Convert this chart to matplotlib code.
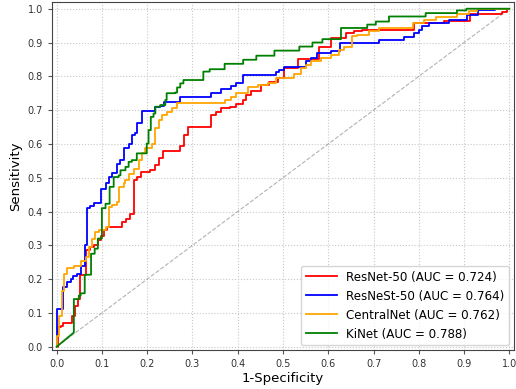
import numpy as np
import matplotlib
matplotlib.use("Agg")
import matplotlib.pyplot as plt

# ROC step points: (fpr where the curve jumps, tpr after the jump)
resnet_fpr = [0, 0.003, 0.009, 0.015, 0.034, 0.040, 0.047, 0.051, 0.064, 0.073, 0.082, 0.091,
              0.097, 0.104, 0.111, 0.144, 0.154, 0.163, 0.170, 0.177, 0.186, 0.207, 0.218,
              0.227, 0.234, 0.273, 0.281, 0.291, 0.340, 0.353, 0.364, 0.382, 0.397, 0.412,
              0.419, 0.430, 0.452, 0.470, 0.489, 0.503, 0.533, 0.580, 0.606, 0.639, 0.657,
              0.675, 0.789, 0.855, 0.912, 0.983, 0.994, 1.0]
resnet_tpr = [0, 0.057, 0.060, 0.069, 0.092, 0.119, 0.141, 0.213, 0.285, 0.295, 0.302, 0.315,
              0.329, 0.344, 0.354, 0.369, 0.379, 0.394, 0.493, 0.502, 0.517, 0.524, 0.537,
              0.557, 0.579, 0.594, 0.626, 0.651, 0.685, 0.695, 0.705, 0.710, 0.718, 0.730,
              0.745, 0.758, 0.774, 0.784, 0.794, 0.824, 0.851, 0.888, 0.913, 0.928, 0.933,
              0.936, 0.957, 0.965, 0.985, 0.990, 1.0, 1.0]

resnest_fpr = [0, 0, 0.015, 0.022, 0.031, 0.037, 0.044, 0.054, 0.062, 0.067, 0.073, 0.083,
               0.097, 0.108, 0.115, 0.122, 0.133, 0.141, 0.148, 0.159, 0.166, 0.174, 0.177,
               0.188, 0.218, 0.229, 0.237, 0.273, 0.340, 0.364, 0.386, 0.397, 0.412, 0.485,
               0.492, 0.503, 0.551, 0.562, 0.576, 0.606, 0.626, 0.712, 0.767, 0.789, 0.800,
               0.807, 0.822, 0.866, 0.906, 0.930, 0.969, 1.0]
resnest_tpr = [0, 0.113, 0.176, 0.190, 0.200, 0.210, 0.215, 0.240, 0.300, 0.410, 0.415, 0.425,
               0.468, 0.483, 0.502, 0.513, 0.542, 0.552, 0.587, 0.601, 0.626, 0.631, 0.661,
               0.697, 0.708, 0.712, 0.725, 0.738, 0.750, 0.762, 0.770, 0.781, 0.804, 0.814,
               0.819, 0.829, 0.844, 0.854, 0.869, 0.874, 0.898, 0.908, 0.916, 0.928, 0.938,
               0.948, 0.957, 0.967, 0.982, 0.996, 1.0, 1.0]

central_fpr = [0, 0, 0.005, 0.012, 0.016, 0.022, 0.038, 0.053, 0.064, 0.071, 0.078, 0.084,
               0.093, 0.108, 0.115, 0.122, 0.133, 0.138, 0.148, 0.152, 0.159, 0.170, 0.181,
               0.188, 0.196, 0.210, 0.218, 0.225, 0.232, 0.243, 0.254, 0.265, 0.371, 0.386,
               0.397, 0.423, 0.445, 0.467, 0.485, 0.525, 0.540, 0.551, 0.562, 0.584, 0.606,
               0.624, 0.635, 0.653, 0.664, 0.690, 0.712, 0.786, 0.811, 0.837, 0.884, 0.910,
               0.928, 1.0]
central_tpr = [0, 0.033, 0.092, 0.166, 0.216, 0.234, 0.240, 0.255, 0.265, 0.295, 0.320, 0.339,
               0.344, 0.354, 0.413, 0.418, 0.428, 0.473, 0.483, 0.493, 0.512, 0.527, 0.552,
               0.572, 0.587, 0.601, 0.646, 0.671, 0.685, 0.695, 0.705, 0.720, 0.730, 0.740,
               0.752, 0.767, 0.774, 0.781, 0.794, 0.807, 0.824, 0.834, 0.844, 0.854, 0.864,
               0.878, 0.888, 0.918, 0.923, 0.933, 0.943, 0.957, 0.967, 0.975, 0.984, 0.992,
               1.0, 1.0]

# KiNet starts with a straight (tied) segment from the origin
kinet_fpr = [0, 0.038, 0.038, 0.049, 0.053, 0.062, 0.076, 0.084, 0.091, 0.100, 0.108, 0.117,
             0.126, 0.137, 0.141, 0.152, 0.159, 0.166, 0.177, 0.199, 0.203, 0.208, 0.214,
             0.218, 0.229, 0.240, 0.243, 0.262, 0.266, 0.273, 0.280, 0.324, 0.338, 0.371,
             0.412, 0.441, 0.481, 0.536, 0.565, 0.587, 0.628, 0.686, 0.705, 0.734, 0.815,
             0.884, 0.905, 1.0]
kinet_tpr = [0, 0.042, 0.141, 0.151, 0.158, 0.213, 0.275, 0.290, 0.320, 0.410, 0.423, 0.473,
             0.502, 0.507, 0.522, 0.532, 0.547, 0.552, 0.572, 0.601, 0.641, 0.680, 0.690,
             0.710, 0.715, 0.730, 0.750, 0.752, 0.767, 0.779, 0.789, 0.814, 0.821, 0.837,
             0.849, 0.861, 0.876, 0.888, 0.900, 0.910, 0.943, 0.953, 0.962, 0.977, 0.987,
             0.995, 1.0, 1.0]

models = ["ResNet-50", "ResNeSt-50", "CentralNet", "KiNet"]
aucs = [0.724, 0.764, 0.762, 0.788]
colors = ["red", "blue", "orange", "green"]


def steps(fpr, tpr, diag_start=False):
    # turn jump points into horizontal/vertical vertices
    xs = [fpr[0]]
    ys = [tpr[0]]
    start = 1
    if diag_start:
        xs.append(fpr[1])
        ys.append(tpr[1])
        start = 2
    for i in range(start, len(fpr)):
        xs += [fpr[i], fpr[i]]
        ys += [tpr[i - 1], tpr[i]]
    return xs, ys


curves = [steps(resnet_fpr, resnet_tpr), steps(resnest_fpr, resnest_tpr),
          steps(central_fpr, central_tpr), steps(kinet_fpr, kinet_tpr, True)]

fig = plt.figure(figsize=(5.16, 3.89), dpi=100)
ax = fig.add_axes([0.101, 0.100, 0.895, 0.895])

ax.plot([0, 1], [0, 1], linestyle="--", color="gray", alpha=0.6, linewidth=0.8)
for (xs, ys), name, auc, c in zip(curves, models, aucs, colors):
    ax.plot(xs, ys, color=c, linewidth=1.3, label="%s (AUC = %.3f)" % (name, auc))

ax.set_xlim(-0.01, 1.01)
ax.set_ylim(-0.01, 1.02)
ax.set_xticks(np.arange(0, 1.01, 0.1))
ax.set_yticks(np.arange(0, 1.01, 0.1))
ax.tick_params(labelsize=7, length=3, color="#555555", labelcolor="#333333")
ax.grid(True, linestyle=":", color="#c8c8c8", linewidth=0.8)
for s in ax.spines.values():
    s.set_color("#444444")
ax.set_xlabel("1-Specificity", fontsize=9.5, labelpad=2)
ax.set_ylabel("Sensitivity", fontsize=9.5, labelpad=4)
ax.legend(loc="lower right", fontsize=8.6, handlelength=2.6, borderaxespad=0.4)

fig.savefig("out.png", dpi=100)
